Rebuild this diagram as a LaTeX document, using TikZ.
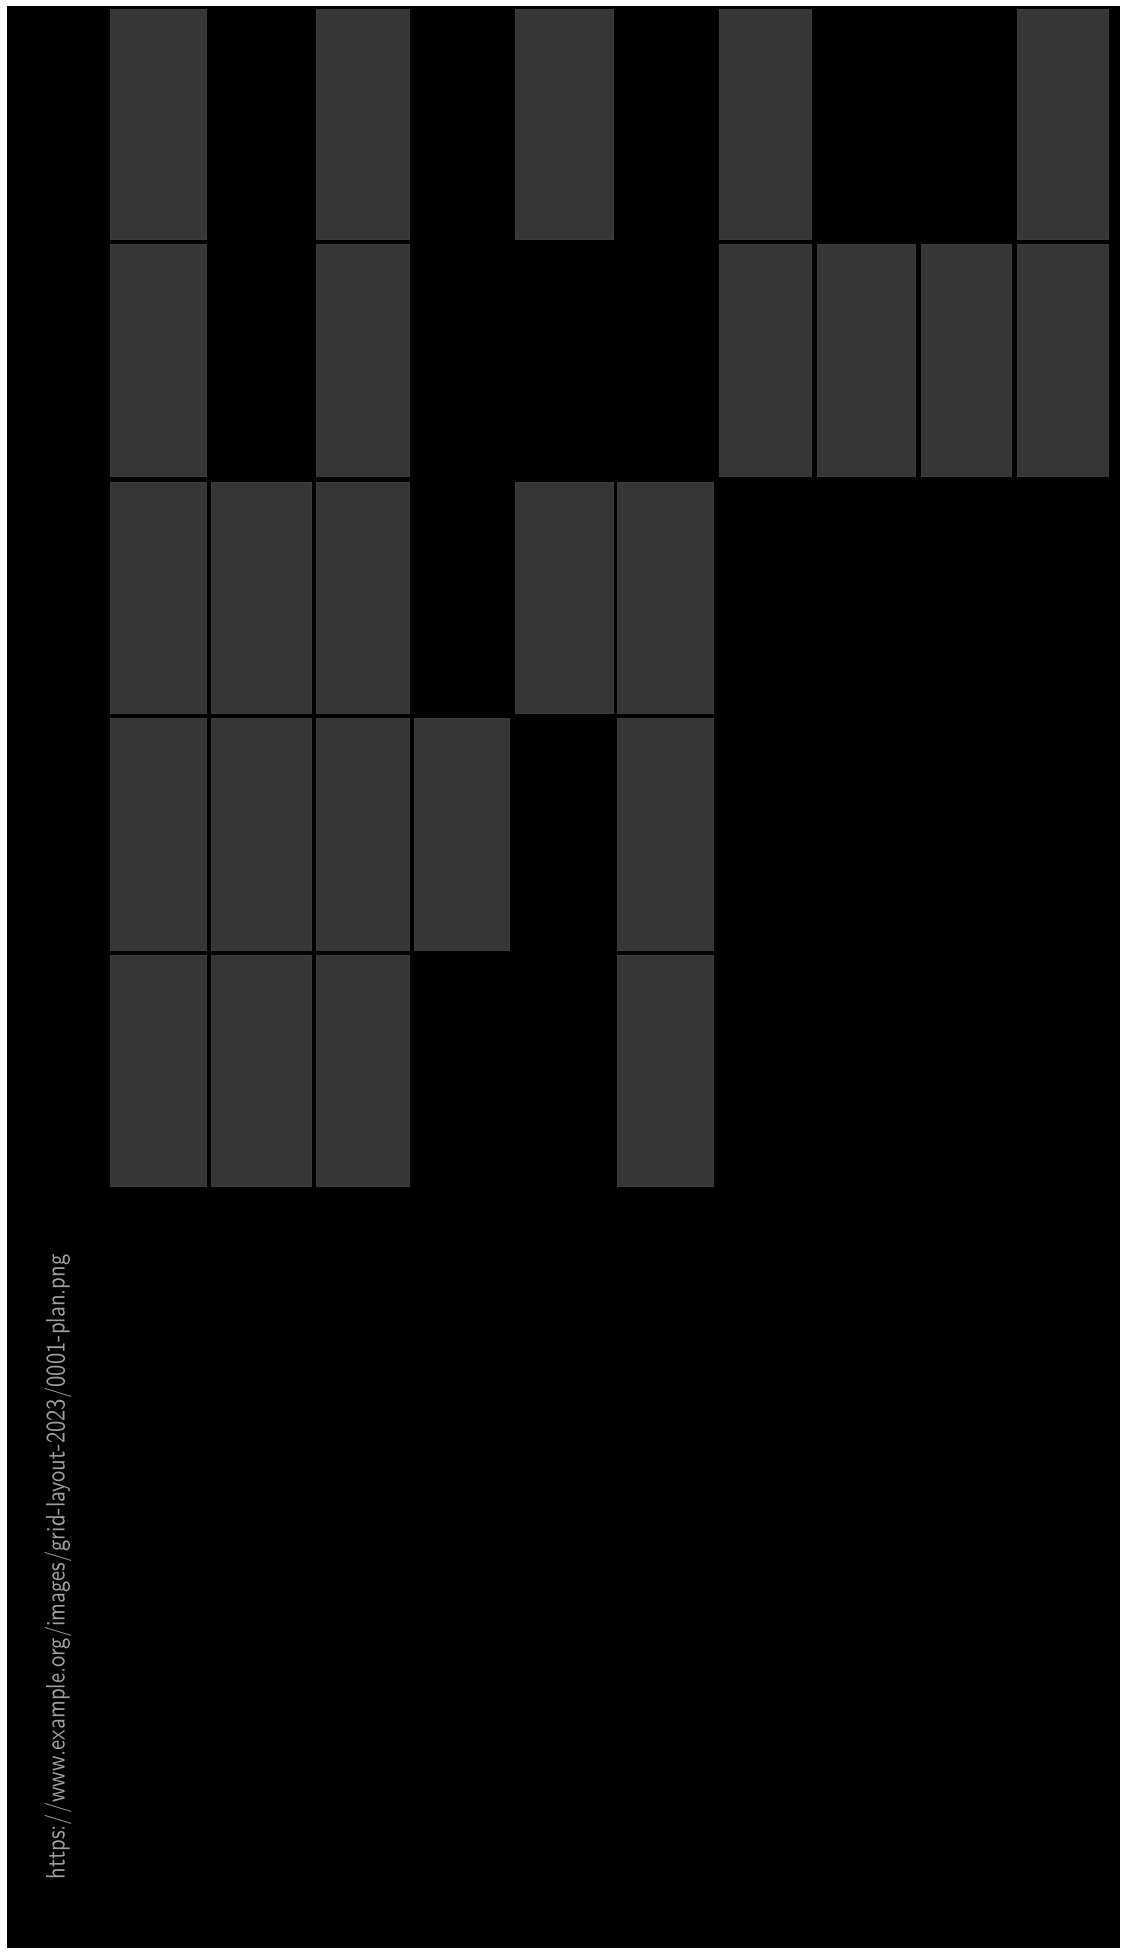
\documentclass[tikz,border=0pt]{standalone}
\usepackage{graphicx}
\definecolor{cellgray}{RGB}{54,54,54}
\definecolor{celledge}{RGB}{60,60,60}
\definecolor{txtgray}{RGB}{160,160,160}
\tikzset{
  cell/.style={fill=cellgray, draw=celledge, line width=0.8pt},
}
\begin{document}
\begin{tikzpicture}[x=1pt,y=-1pt]
\useasboundingbox (0,0) rectangle (1120,1955);
\fill[white] (0,0) rectangle (1120,1955);
\fill[black] (7,6) rectangle (1120,1948);
% column edges
\def\ca{110}\def\cA{206}
\def\cb{211}\def\cB{311}
\def\cc{316}\def\cC{409}
\def\cd{414}\def\cD{509}
\def\ce{515}\def\cE{613}
\def\cf{617}\def\cF{713}
\def\cg{719}\def\cG{811}
\def\ch{817}\def\cH{915}
\def\ci{921}\def\cI{1011}
\def\cj{1017}\def\cJ{1108}
% row edges
\def\ra{9}\def\rA{239}
\def\rb{244}\def\rB{476}
\def\rc{482}\def\rC{713}
\def\rd{718}\def\rD{950}
\def\re{955}\def\rE{1186}
% row 1
\draw[cell] (\ca,\ra) rectangle (\cA,\rA);
\draw[cell] (\cc,\ra) rectangle (\cC,\rA);
\draw[cell] (\ce,\ra) rectangle (\cE,\rA);
\draw[cell] (\cg,\ra) rectangle (\cG,\rA);
\draw[cell] (\cj,\ra) rectangle (\cJ,\rA);
% row 2
\draw[cell] (\ca,\rb) rectangle (\cA,\rB);
\draw[cell] (\cc,\rb) rectangle (\cC,\rB);
\draw[cell] (\cg,\rb) rectangle (\cG,\rB);
\draw[cell] (\ch,\rb) rectangle (\cH,\rB);
\draw[cell] (\ci,\rb) rectangle (\cI,\rB);
\draw[cell] (\cj,\rb) rectangle (\cJ,\rB);
% row 3
\draw[cell] (\ca,\rc) rectangle (\cA,\rC);
\draw[cell] (\cb,\rc) rectangle (\cB,\rC);
\draw[cell] (\cc,\rc) rectangle (\cC,\rC);
\draw[cell] (\ce,\rc) rectangle (\cE,\rC);
\draw[cell] (\cf,\rc) rectangle (\cF,\rC);
% row 4
\draw[cell] (\ca,\rd) rectangle (\cA,\rD);
\draw[cell] (\cb,\rd) rectangle (\cB,\rD);
\draw[cell] (\cc,\rd) rectangle (\cC,\rD);
\draw[cell] (\cd,\rd) rectangle (\cD,\rD);
\draw[cell] (\cf,\rd) rectangle (\cF,\rD);
% row 5
\draw[cell] (\ca,\re) rectangle (\cA,\rE);
\draw[cell] (\cb,\re) rectangle (\cB,\rE);
\draw[cell] (\cc,\re) rectangle (\cC,\rE);
\draw[cell] (\cf,\re) rectangle (\cF,\rE);
% rotated caption
\node[rotate=90, text=txtgray, inner sep=0pt] (caption) at (58,1567)
  {\resizebox{625pt}{20pt}{\sffamily https://www.example.org/images/grid-layout-2023/0001-plan.png}};
\end{tikzpicture}
\end{document}
